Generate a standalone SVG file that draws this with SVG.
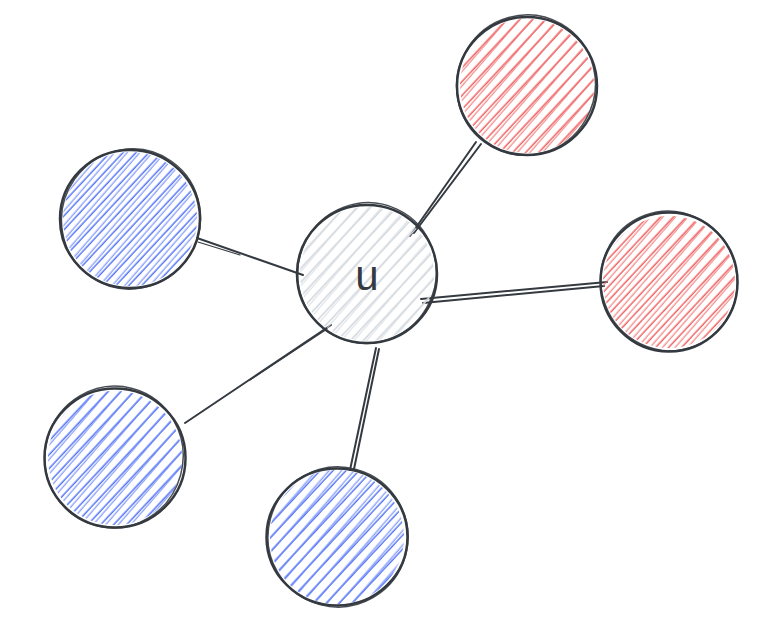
<svg xmlns="http://www.w3.org/2000/svg" width="782" height="642" viewBox="0 0 782 642">
<defs>
<style>
.o1{fill:none;stroke:#343a40;stroke-width:2.5;stroke-linecap:round}
.o2{fill:none;stroke:#343a40;stroke-width:1.5;stroke-linecap:round;opacity:.9}
.e{fill:none;stroke:#343a40;stroke-width:2;stroke-linecap:round}
.lbl{font-family:"Liberation Sans",Arial,sans-serif;font-size:42px;fill:#343a40;text-anchor:middle}
</style>
<pattern id="hr1" patternUnits="userSpaceOnUse" width="9.5" height="9.5" patternTransform="rotate(-47)"><line x1="0" y1="4" x2="9.5" y2="4" stroke="#ee5a5a" stroke-width="1.4"/></pattern>
<pattern id="hr2" patternUnits="userSpaceOnUse" width="9.5" height="9.5" patternTransform="rotate(-49) translate(0 2)"><line x1="0" y1="4" x2="9.5" y2="4" stroke="#f27676" stroke-width="1.1"/></pattern>
<pattern id="hb1" patternUnits="userSpaceOnUse" width="9.5" height="9.5" patternTransform="rotate(-47)"><line x1="0" y1="4" x2="9.5" y2="4" stroke="#4c6ef5" stroke-width="1.4"/></pattern>
<pattern id="hb2" patternUnits="userSpaceOnUse" width="9.5" height="9.5" patternTransform="rotate(-49) translate(0 2)"><line x1="0" y1="4" x2="9.5" y2="4" stroke="#6f8bf8" stroke-width="1.1"/></pattern>
<pattern id="hg1" patternUnits="userSpaceOnUse" width="9.5" height="9.5" patternTransform="rotate(-47)"><line x1="0" y1="4" x2="9.5" y2="4" stroke="#ced4da" stroke-width="1.4"/></pattern>
<pattern id="hg2" patternUnits="userSpaceOnUse" width="9.5" height="9.5" patternTransform="rotate(-49) translate(0 2)"><line x1="0" y1="4" x2="9.5" y2="4" stroke="#d9dde2" stroke-width="1.1"/></pattern>
</defs>
<rect width="782" height="642" fill="#ffffff"/>

<g id="connectors">
<line class="e" x1="410" y1="236" x2="476" y2="142"/>
<line class="e" x1="414" y1="233" x2="481" y2="144"/>
<line class="e" x1="421" y1="299" x2="607" y2="282"/>
<line class="e" x1="423" y1="303" x2="604" y2="286"/>
<line class="e" x1="376" y1="348" x2="350" y2="470"/>
<line class="e" x1="379" y1="349" x2="354" y2="469"/>
<line class="e" x1="331" y1="325" x2="185" y2="423"/>
<line class="e" x1="327" y1="329" x2="250" y2="380" style="stroke-width:1.2"/>
<line class="e" x1="197" y1="238" x2="303" y2="275"/>
<line class="e" x1="198" y1="242" x2="240" y2="255" style="stroke-width:1.2"/>
</g>

<g id="node-u">
<circle cx="367" cy="274" r="67" fill="url(#hg1)"/>
<circle cx="367" cy="274" r="67" fill="url(#hg2)"/>
<ellipse class="o1" cx="367" cy="274" rx="70" ry="69"/>
<ellipse class="o2" cx="367" cy="273" rx="69" ry="70.5" transform="rotate(25 367 273)"/>
<text class="lbl" x="367" y="290">u</text>
</g>

<g id="node-red-top">
<circle cx="527" cy="86" r="67" fill="url(#hr1)"/>
<circle cx="527" cy="86" r="67" fill="url(#hr2)"/>
<ellipse class="o1" cx="527" cy="86" rx="70" ry="69"/>
<ellipse class="o2" cx="526" cy="85" rx="69" ry="70.5" transform="rotate(30 526 85)"/>
</g>

<g id="node-red-right">
<circle cx="669" cy="282" r="66" fill="url(#hr1)"/>
<circle cx="669" cy="282" r="66" fill="url(#hr2)"/>
<ellipse class="o1" cx="669" cy="282" rx="68.5" ry="69.5"/>
<ellipse class="o2" cx="669" cy="281" rx="68" ry="70" transform="rotate(-20 669 281)"/>
</g>

<g id="node-blue-1">
<circle cx="130" cy="219" r="67" fill="url(#hb1)"/>
<circle cx="130" cy="219" r="67" fill="url(#hb2)"/>
<ellipse class="o1" cx="130" cy="219" rx="70" ry="69"/>
<ellipse class="o2" cx="131" cy="219" rx="69" ry="70.5" transform="rotate(35 131 219)"/>
</g>

<g id="node-blue-2">
<circle cx="115" cy="458" r="67" fill="url(#hb1)"/>
<circle cx="115" cy="458" r="67" fill="url(#hb2)"/>
<ellipse class="o1" cx="115" cy="458" rx="70.5" ry="69.5"/>
<ellipse class="o2" cx="114" cy="457" rx="69" ry="71" transform="rotate(15 114 457)"/>
</g>

<g id="node-blue-3">
<circle cx="337" cy="537" r="67" fill="url(#hb1)"/>
<circle cx="337" cy="537" r="67" fill="url(#hb2)"/>
<ellipse class="o1" cx="337" cy="537" rx="70.5" ry="68.5"/>
<ellipse class="o2" cx="338" cy="537" rx="70" ry="70" transform="rotate(-30 338 537)"/>
</g>
</svg>
